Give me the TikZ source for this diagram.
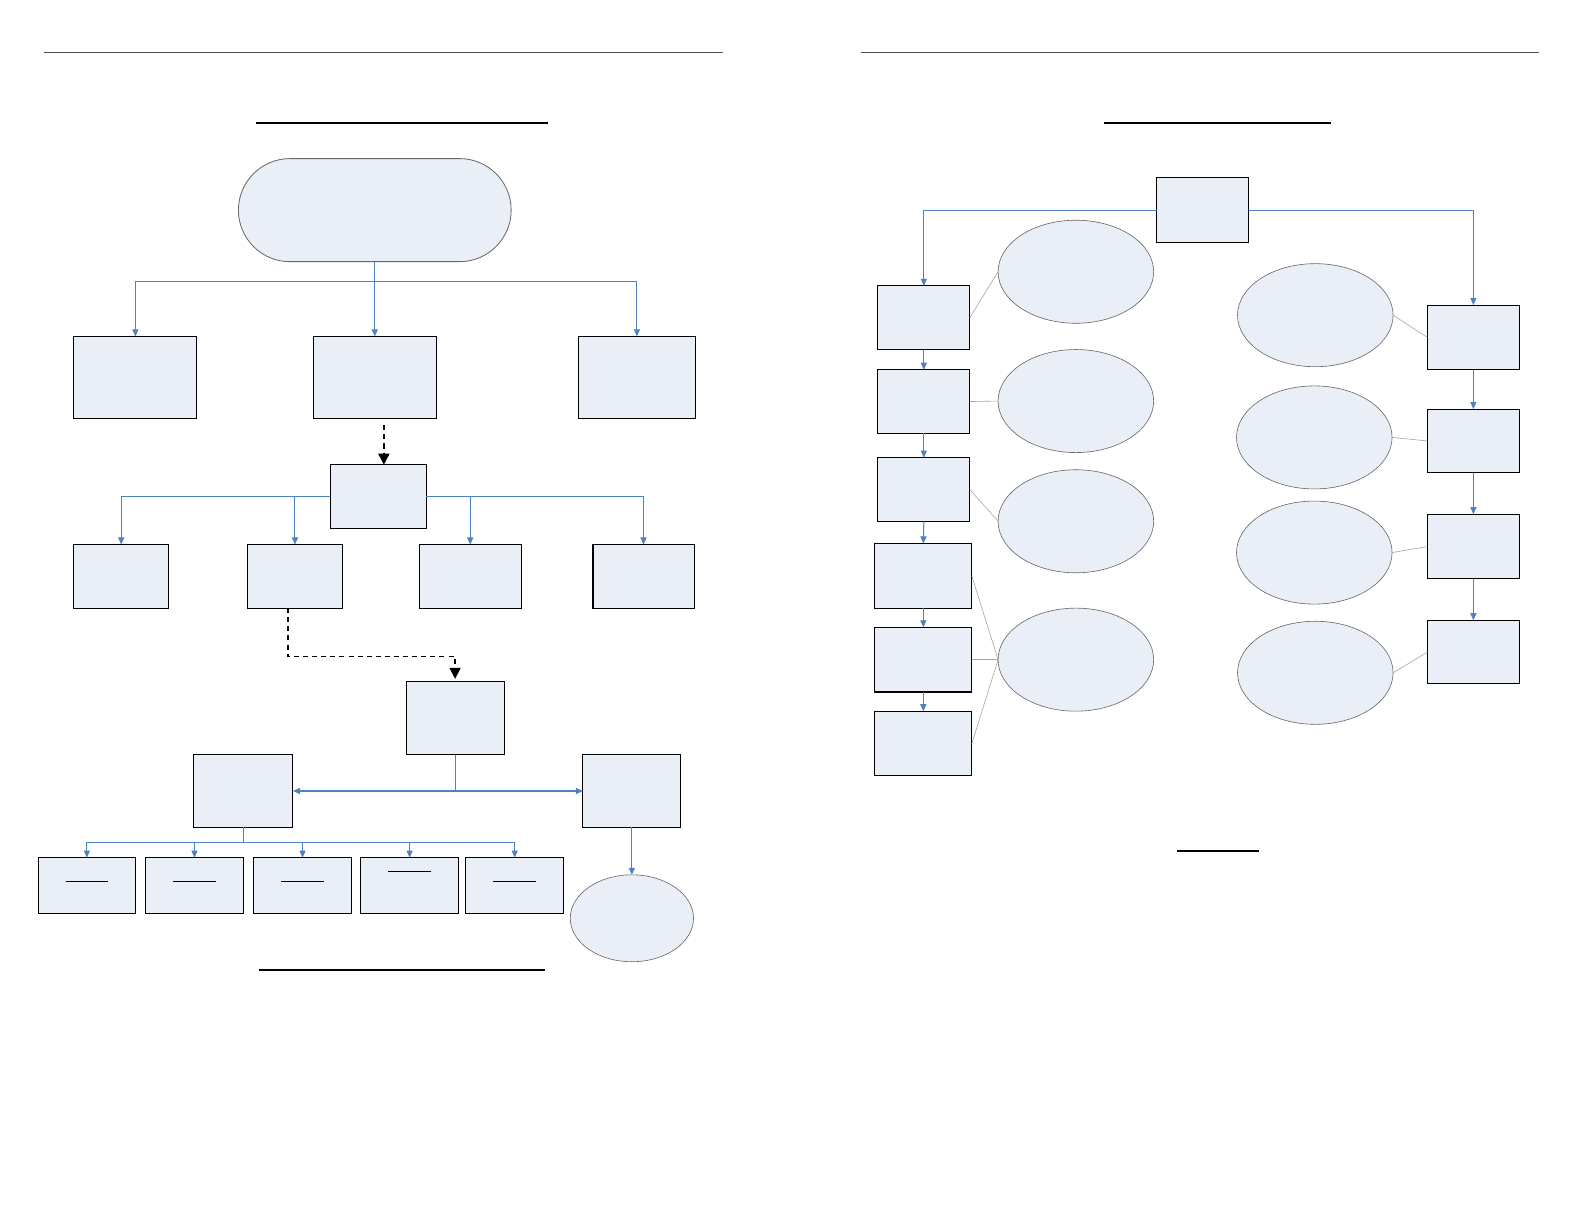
\documentclass[tikz,border=0pt]{standalone}
\usetikzlibrary{arrows.meta,calc,shapes.geometric}
\definecolor{boxfill}{HTML}{E9EEF7}
\definecolor{connblue}{HTML}{4F81BD}
\newcommand\bx[5]{\node[box,minimum width={(#4-#2)*1pt},minimum height={(#5-#3)*1pt}] (#1) at ({(#2+#4)/2},{(#3+#5)/2}) {};}
\tikzset{
  box/.style={draw=black,line width=1pt,fill=boxfill,inner sep=0pt,outer sep=0pt},
  ell/.style={ellipse,draw=black!60,line width=0.6pt,fill=boxfill,inner sep=0pt,outer sep=0pt},
  conn/.style={draw=connblue,line width=1pt,-{Triangle[width=6pt,length=7pt]}},
  connplain/.style={draw=connblue,line width=1pt},
  dasharrow/.style={draw=black,line width=1.6pt,dash pattern=on 5pt off 4pt,-{Triangle[width=11pt,length=11pt]}},
  thin/.style={draw=black!35,line width=0.6pt},
  rule/.style={draw=black!70,line width=1pt},
  uline/.style={draw=black,line width=1.8pt},
  inner/.style={draw=black,line width=1pt}
}
\begin{document}
\begin{tikzpicture}[x=1pt,y=-1pt]
\useasboundingbox[fill=white] (0,0) rectangle (1568,1212);
% page rules and title lines
\draw[rule] (44,52) -- (716,52);
\draw[rule] (852,52) -- (1523,52);
\draw[uline] (253,122) -- (542,122);
\draw[uline] (1093,122) -- (1318,122);
\draw[uline] (256,960) -- (539,960);
\draw[uline] (1165,842) -- (1246,842);
% ---------- left page ----------
\node[draw=black!60,line width=0.8pt,fill=boxfill,rounded corners=51pt,minimum width=270pt,minimum height=102pt,inner sep=0pt] (S) at (371,208) {};
\bx{L}{73}{333}{195}{414}
\bx{M}{310}{333}{432}{414}
\bx{R}{573}{333}{688}{414}
\coordinate (j1) at (371,279);
\draw[connplain] (S.south) -- (j1);
\draw[conn] (j1) -| (L.north);
\draw[conn] (j1) -| (R.north);
\draw[conn] (j1) -- (M.north);
\bx{M2}{327}{460}{422}{523}
\coordinate (d1) at (380,421);
\draw[dasharrow] (d1) -- (d1 |- M2.north);
\bx{A}{73}{539}{167}{602}
\bx{B}{245}{539}{339}{602}
\bx{C}{415}{539}{516}{602}
\bx{D}{587}{539}{687}{602}
\draw[conn] (M2.west) -| (A.north);
\draw[conn] (M2.west) -| (B.north);
\draw[conn] (M2.east) -| (C.north);
\draw[conn] (M2.east) -| (D.north);
\bx{E}{402}{675}{499}{747}
\coordinate (d2) at (285,602);
\coordinate (d3) at (285,650);
\draw[dasharrow] (d2) -- (d3) -| ($(E.north)+(0,-3)$);
\bx{F}{192}{747}{290}{819}
\bx{G}{577}{747}{674}{819}
\coordinate (j2) at (450.5,783);
\draw[connplain] (E.south) -- (j2);
\draw[conn] (j2) -- (F.east);
\draw[conn] (j2) -- (G.west);
\bx{P1}{38}{849}{134}{904}
\bx{P2}{144}{849}{241}{904}
\bx{P3}{251}{849}{348}{904}
\bx{P4}{357}{849}{454}{904}
\bx{P5}{461}{849}{558}{904}
\coordinate (j3) at (241,834);
\draw[connplain] (F.south) -- (j3);
\foreach \p in {P1,P2,P3,P4,P5}{\draw[conn] (j3) -| (\p.north);}
\foreach \p in {P1,P2,P3,P5}{\draw[inner] ($(\p.center)+(-21,-3.5)$) -- ($(\p.center)+(21,-3.5)$);}
\draw[inner] ($(P4.center)+(-21,-13.5)$) -- ($(P4.center)+(21,-13.5)$);
\node[ell,minimum width=122pt,minimum height=86pt] (H) at (625.5,909) {};
\draw[conn] (G.south) -- (H.north);
% ---------- right page ----------
\bx{T}{1145}{176}{1236}{240}
\bx{B1}{869}{283}{960}{346}
\bx{B2}{869}{366}{960}{429}
\bx{B3}{869}{453}{960}{516}
\bx{B4}{866}{538}{962}{602}
\bx{B5}{866}{621}{962}{685}
\bx{B6}{866}{704}{962}{768}
\bx{C1}{1413}{302}{1504}{366}
\bx{C2}{1413}{405}{1504}{468}
\bx{C3}{1413}{509}{1504}{573}
\bx{C4}{1413}{614}{1504}{677}
\draw[conn] (T.west) -| (B1.north);
\draw[conn] (T.east) -| (C1.north);
\draw[conn] (B1.south) -- (B2.north);
\draw[conn] (B2.south) -- (B3.north);
\draw[conn] (B3.south) -- (B4.north);
\draw[conn] (B4.south) -- (B5.north);
\draw[conn] (B5.south) -- (B6.north);
\draw[conn] (C1.south) -- (C2.north);
\draw[conn] (C2.south) -- (C3.north);
\draw[conn] (C3.south) -- (C4.north);
\node[ell,minimum width=154pt,minimum height=102pt] (E1) at (1065,269) {};
\node[ell,minimum width=154pt,minimum height=102pt] (E2) at (1065,397) {};
\node[ell,minimum width=154pt,minimum height=102pt] (E3) at (1065,516) {};
\node[ell,minimum width=154pt,minimum height=102pt] (E4) at (1065,653) {};
\node[ell,minimum width=154pt,minimum height=102pt] (F1) at (1302,312) {};
\node[ell,minimum width=154pt,minimum height=102pt] (F2) at (1301,433) {};
\node[ell,minimum width=154pt,minimum height=102pt] (F3) at (1301,547) {};
\node[ell,minimum width=154pt,minimum height=102pt] (F4) at (1302,666) {};
\draw[thin] (B1.east) -- (E1.west);
\draw[thin] (B2.east) -- (E2.west);
\draw[thin] (B3.east) -- (E3.west);
\draw[thin] (B4.east) -- (E4.west);
\draw[thin] (B5.east) -- (E4.west);
\draw[thin] (B6.east) -- (E4.west);
\draw[thin] (F1.east) -- (C1.west);
\draw[thin] (F2.east) -- (C2.west);
\draw[thin] (F3.east) -- (C3.west);
\draw[thin] (F4.east) -- (C4.west);
\end{tikzpicture}
\end{document}
